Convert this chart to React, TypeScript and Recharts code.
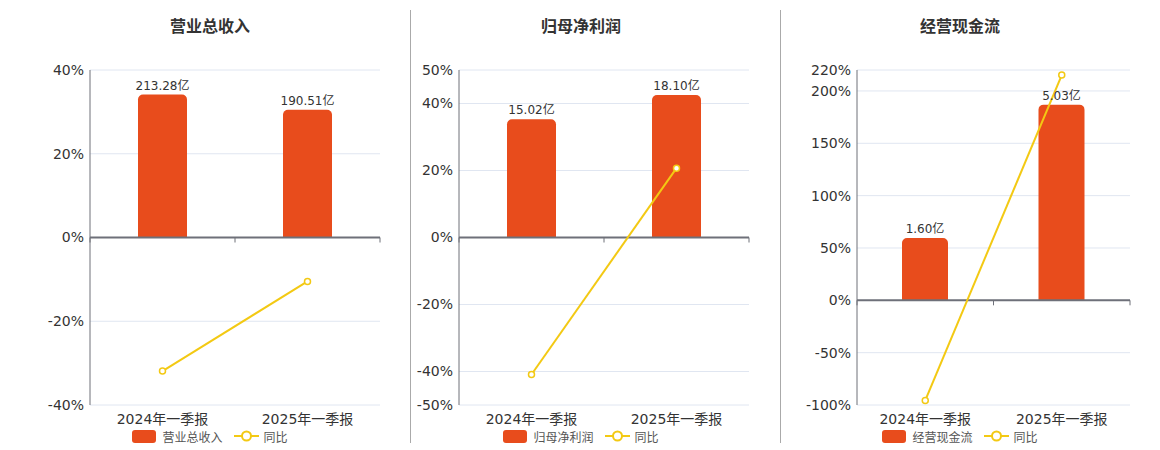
import React from 'react';
import {
  ComposedChart,
  Bar,
  Line,
  XAxis,
  YAxis,
  CartesianGrid,
  LabelList,
  ReferenceLine,
} from 'recharts';

const periods = ['2024年一季报', '2025年一季报'];

const revenue = [213.28, 190.51];
const revenueYoy = [-31.9, -10.5];

const netProfit = [15.02, 18.1];
const netProfitYoy = [-40.9, 20.7];

const cashFlow = [1.6, 5.03];
const cashFlowYoy = [-95.6, 215.2];

const revenueTicks = [-40, -20, 0, 20, 40];
const netProfitTicks = [-50, -40, -20, 0, 20, 40, 50];
const cashFlowTicks = [-100, -50, 0, 50, 100, 150, 200, 220];

const BAR_COLOR = '#e84c1c';
const LINE_COLOR = '#f3c913';
const AXIS_COLOR = '#6e7079';
const FONT = '"DejaVu Sans", "Noto Sans CJK SC", sans-serif';

const panels = [
  {
    title: '营业总收入',
    name: '营业总收入',
    values: revenue,
    yoy: revenueYoy,
    ticks: revenueTicks,
    pctDomain: [-40, 40],
    amtDomain: [-250, 250],
    left: 0,
    width: 410,
    margin: { top: 70, right: 30, bottom: 20, left: 30 },
    yWidth: 60,
    barSize: 49,
    center: 210,
  },
  {
    title: '归母净利润',
    name: '归母净利润',
    values: netProfit,
    yoy: netProfitYoy,
    ticks: netProfitTicks,
    pctDomain: [-50, 50],
    amtDomain: [-21.28, 21.28],
    left: 410,
    width: 370,
    margin: { top: 70, right: 31, bottom: 20, left: 0 },
    yWidth: 49,
    barSize: 49,
    center: 581,
  },
  {
    title: '经营现金流',
    name: '经营现金流',
    values: cashFlow,
    yoy: cashFlowYoy,
    ticks: cashFlowTicks,
    pctDomain: [-100, 220],
    amtDomain: [-2.69, 5.92],
    left: 780,
    width: 380,
    margin: { top: 70, right: 30, bottom: 20, left: 0 },
    yWidth: 77,
    barSize: 46,
    center: 960,
  },
];

// zero line with small category boundary ticks, like the source chart
function ZeroAxis(props: any) {
  const { x1, y1, x2 } = props;
  const a = Math.min(x1, x2);
  const b = Math.max(x1, x2);
  const xs = [a, (a + b) / 2, b];
  return (
    <g>
      <line x1={a} y1={y1} x2={b} y2={y1} stroke={AXIS_COLOR} strokeWidth={2} />
      {xs.map((x, i) => (
        <line key={i} x1={x} y1={y1} x2={x} y2={y1 + 5} stroke={AXIS_COLOR} strokeWidth={1} />
      ))}
    </g>
  );
}

function Panel({ p }: { p: (typeof panels)[number] }) {
  const data = periods.map((period, i) => ({ period, value: p.values[i], yoy: p.yoy[i] }));
  return (
    <div style={{ position: 'absolute', left: p.left, top: 0, width: p.width, height: 450 }}>
      <ComposedChart width={p.width} height={450} data={data} margin={p.margin} style={{ fontFamily: FONT }}>
        <CartesianGrid yAxisId="pct" vertical={false} stroke="#e0e6f1" />
        <XAxis
          dataKey="period"
          axisLine={false}
          tickLine={false}
          tickSize={6}
          tickMargin={3}
          height={25}
          tick={{ fontSize: 14, fill: '#333' }}
        />
        <YAxis
          yAxisId="pct"
          width={p.yWidth}
          domain={p.pctDomain}
          ticks={p.ticks}
          interval={0}
          tickFormatter={(v) => `${v}%`}
          axisLine={{ stroke: AXIS_COLOR }}
          tickLine={false}
          tickSize={0}
          tickMargin={6}
          tick={{ fontSize: 14, fill: '#333' }}
        />
        <YAxis yAxisId="amt" orientation="right" hide domain={p.amtDomain} />
        <Bar
          yAxisId="amt"
          dataKey="value"
          fill={BAR_COLOR}
          barSize={p.barSize}
          radius={[5, 5, 0, 0]}
          isAnimationActive={false}
        >
          <LabelList
            dataKey="value"
            position="top"
            offset={5}
            formatter={(v: any) => `${Number(v).toFixed(2)}亿`}
            style={{ fontSize: 12, fill: '#333' }}
          />
        </Bar>
        <ReferenceLine yAxisId="pct" y={0} shape={ZeroAxis} />
        <Line
          yAxisId="pct"
          dataKey="yoy"
          type="linear"
          stroke={LINE_COLOR}
          strokeWidth={2}
          dot={{ r: 3, fill: '#fff', stroke: LINE_COLOR, strokeWidth: 1.5 }}
          isAnimationActive={false}
        />
      </ComposedChart>
    </div>
  );
}

function Legend({ p }: { p: (typeof panels)[number] }) {
  return (
    <div
      style={{
        position: 'absolute',
        left: p.center - 150,
        top: 428,
        width: 300,
        height: 16,
        display: 'flex',
        justifyContent: 'center',
        alignItems: 'center',
        fontFamily: FONT,
        fontSize: 12,
        color: '#555',
      }}
    >
      <span style={{ width: 24, height: 13, background: BAR_COLOR, borderRadius: 3, marginRight: 6 }} />
      <span style={{ marginRight: 11 }}>{p.name}</span>
      <svg width={25} height={14} style={{ marginRight: 5 }}>
        <line x1={0} y1={7} x2={25} y2={7} stroke={LINE_COLOR} strokeWidth={2} />
        <circle cx={12.5} cy={7} r={4.5} fill="#fff" stroke={LINE_COLOR} strokeWidth={2} />
      </svg>
      <span>同比</span>
    </div>
  );
}

export default function App() {
  return (
    <div style={{ position: 'absolute', left: 0, top: 0, width: 1160, height: 450, background: '#fff' }}>
      {panels.map((p) => (
        <Panel key={p.title} p={p} />
      ))}
      {panels.map((p) => (
        <div
          key={`t-${p.title}`}
          style={{
            position: 'absolute',
            left: p.center - 100,
            top: 13,
            width: 200,
            textAlign: 'center',
            fontFamily: FONT,
            fontSize: 16,
            fontWeight: 'bold',
            color: '#333',
          }}
        >
          {p.title}
        </div>
      ))}
      {panels.map((p) => (
        <Legend key={`l-${p.title}`} p={p} />
      ))}
      <div style={{ position: 'absolute', left: 410, top: 10, width: 1, height: 433, background: '#aaa' }} />
      <div style={{ position: 'absolute', left: 780, top: 10, width: 1, height: 433, background: '#aaa' }} />
    </div>
  );
}
